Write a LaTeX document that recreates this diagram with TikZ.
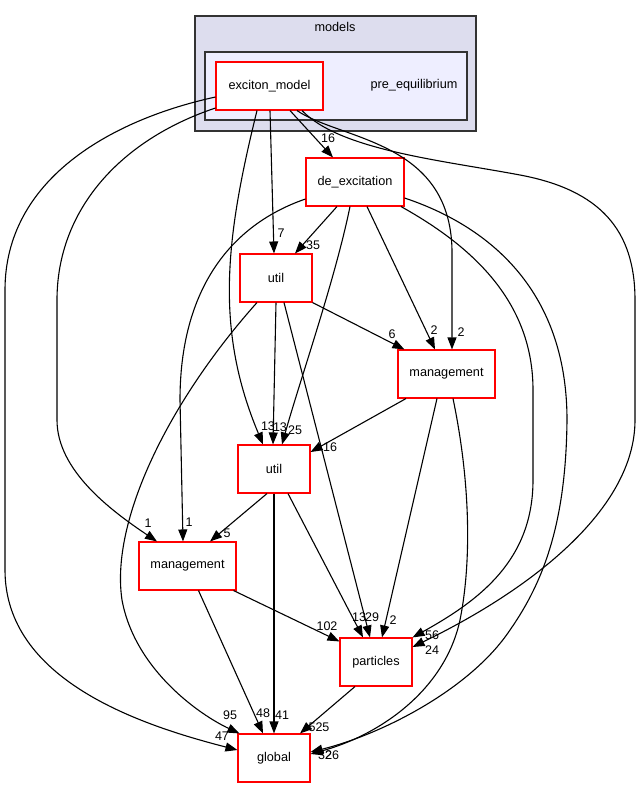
\documentclass[tikz,border=0pt]{standalone}
\usepackage{fontspec}
\setmainfont{Liberation Sans}
\usetikzlibrary{arrows.meta}
\definecolor{outerfill}{HTML}{DDDDEE}
\definecolor{innerfill}{HTML}{EEEEFF}
\definecolor{clborder}{HTML}{333333}
\newcommand{\nfont}{\fontsize{12.7}{15}\selectfont}
\newcommand{\lfont}{\fontsize{12.5}{14}\selectfont}
\tikzset{
  dirbox/.style={draw=red, fill=white, line width=1.1pt, minimum height=48pt, inner sep=0pt, font=\nfont},
  lbl/.style={font=\lfont, inner sep=0pt},
  dep/.style={-{Triangle[length=12pt,width=9pt]}, line width=1.1pt},
  clus/.style={draw=clborder, line width=1.6pt}
}
\begin{document}
\begin{tikzpicture}[x=1pt,y=-1pt]
\fill[white] (0,0) rectangle (640,788);
\useasboundingbox (0,0) rectangle (640,788);
% clusters
\draw[clus, fill=outerfill] (195,16) rectangle (476,131);
\node[font=\nfont] (tmodels) at (335,27) {models};
\draw[clus, fill=innerfill] (205,52) rectangle (467,120);
\node[font=\nfont] (tpre) at (414,85) {pre\_equilibrium};
% nodes
\node[dirbox, minimum width=107pt] (exc) at (269.5,86) {exciton\_model};
\node[dirbox, minimum width=98pt] (dex) at (355,182) {de\_excitation};
\node[dirbox, minimum width=72pt] (utilA) at (276,278) {util};
\node[dirbox, minimum width=97pt] (mgmtR) at (446.5,374) {management};
\node[dirbox, minimum width=72pt] (utilB) at (274,469) {util};
\node[dirbox, minimum width=97pt] (mgmtL) at (187.5,566) {management};
\node[dirbox, minimum width=72pt] (part) at (376,662) {particles};
\node[dirbox, minimum width=72pt] (glob) at (274,758) {global};
% edges
\draw[dep] ([yshift=-11pt]exc.west) .. controls (110,120) and (5,180) .. (5,290) -- (5,570) .. controls (5,680) and (140,725) .. ([yshift=8pt]glob.west);
\draw[dep] ([yshift=-22pt]exc.west) .. controls (120,140) and (57,210) .. (57,300) -- (57,420) .. controls (57,470) and (110,510) .. ([xshift=-30.5pt]mgmtL.north);
\draw[dep] ([xshift=-12.5pt]exc.south) .. controls (225,240) and (215,330) .. ([xshift=-11pt]utilB.north);
\draw[dep] ([xshift=0.5pt]exc.south) -- ([xshift=-2pt]utilA.north);
\draw[dep] ([xshift=20.5pt]exc.south) -- ([xshift=-22pt]dex.north);
\draw[dep] ([xshift=27.5pt]exc.south) .. controls (340,140) and (450,140) .. (452,250) -- ([xshift=5.5pt]mgmtR.north);
\draw[dep] ([xshift=32.5pt]exc.south) .. controls (340,150) and (440,160) .. (520,175) .. controls (600,190) and (635,230) .. (635,300) -- (635,420) .. controls (635,510) and (530,590) .. ([yshift=15pt]part.east);
\draw[dep] ([xshift=-18pt]dex.south) -- ([xshift=19pt]utilA.north);
\draw[dep] ([xshift=-5pt]dex.south) .. controls (335,280) and (300,380) .. ([xshift=8pt]utilB.north);
\draw[dep] (utilA.south) -- ([xshift=-1pt]utilB.north);
\draw[dep] ([yshift=-17pt]dex.west) .. controls (230,225) and (180,290) .. (180,400) -- ([xshift=-4.5pt]mgmtL.north);
\draw[dep] ([xshift=12pt]dex.south) -- ([xshift=-11.5pt]mgmtR.north);
\draw[dep] ([xshift=46pt]dex.south) .. controls (470,245) and (533,300) .. (533,390) -- (533,480) .. controls (533,560) and (480,600) .. (part.north east);
\draw[dep] ([yshift=-16pt]dex.east) .. controls (500,230) and (567,300) .. (567,420) .. controls (566,520) and (545,580) .. (510,630) .. controls (470,690) and (380,735) .. ([yshift=6pt]glob.east);
\draw[dep] ([xshift=6.5pt]mgmtR.south) .. controls (470,480) and (472,560) .. (460,620) .. controls (445,690) and (380,735) .. ([yshift=4pt]glob.east);
\draw[dep] ([xshift=-40.5pt]mgmtR.south) -- ([yshift=17pt]utilB.east);
\draw[dep] ([xshift=-9.5pt]mgmtR.south) -- ([xshift=6pt]part.north);
\draw[dep] (utilA.south east) -- ([xshift=7pt]mgmtR.north west);
\draw[dep] ([xshift=8pt]utilA.south) -- ([xshift=-6pt]part.north);
\draw[dep] ([xshift=-19pt]utilA.south) .. controls (170,400) and (110,520) .. (122,600) .. controls (135,670) and (200,715) .. ([xshift=2pt]glob.north west);
\draw[dep] ([xshift=-7pt]utilB.south) -- ([xshift=22.5pt]mgmtL.north);
\draw[dep] (utilB.south) -- (glob.north);
\draw[dep] ([xshift=14pt]utilB.south) -- ([xshift=-13pt]part.north);
\draw[dep] ([xshift=-3pt]mgmtL.south east) -- ([yshift=-4pt]part.north west);
\draw[dep] ([xshift=11pt]mgmtL.south) -- ([xshift=-11pt]glob.north);
\draw[dep] ([xshift=-21pt]part.south) -- ([xshift=26pt]glob.north);
% labels
\node[lbl] (l47) at (222,736) {47};
\node[lbl] (l1a) at (148,523) {1};
\node[lbl] (l13a) at (268,426) {13};
\node[lbl] (l7) at (281,233) {7};
\node[lbl] (l16a) at (328,138) {16};
\node[lbl] (l2a) at (461,332) {2};
\node[lbl] (l24) at (432,650) {24};
\node[lbl] (l35) at (313,245) {35};
\node[lbl] (l25) at (295,430) {25};
\node[lbl] (l13b) at (280,427) {13};
\node[lbl] (l1b) at (189,522) {1};
\node[lbl] (l2b) at (434,330) {2};
\node[lbl] (l56) at (432,635) {56};
\node[lbl] (l32) at (325,755) {32};
\node[lbl] (l26) at (332,755) {26};
\node[lbl] (l16b) at (330,447) {16};
\node[lbl] (l2c) at (393,620) {2};
\node[lbl] (l6) at (392,334) {6};
\node[lbl] (l29) at (372,617) {29};
\node[lbl] (l13c) at (359,617) {13};
\node[lbl] (l95) at (230,715) {95};
\node[lbl] (l5) at (227,533) {5};
\node[lbl] (l41) at (282,715) {41};
\node[lbl] (l102) at (327,626) {102};
\node[lbl] (l48) at (263,713) {48};
\node[lbl] (l525) at (319,727) {525};
\end{tikzpicture}
\end{document}
